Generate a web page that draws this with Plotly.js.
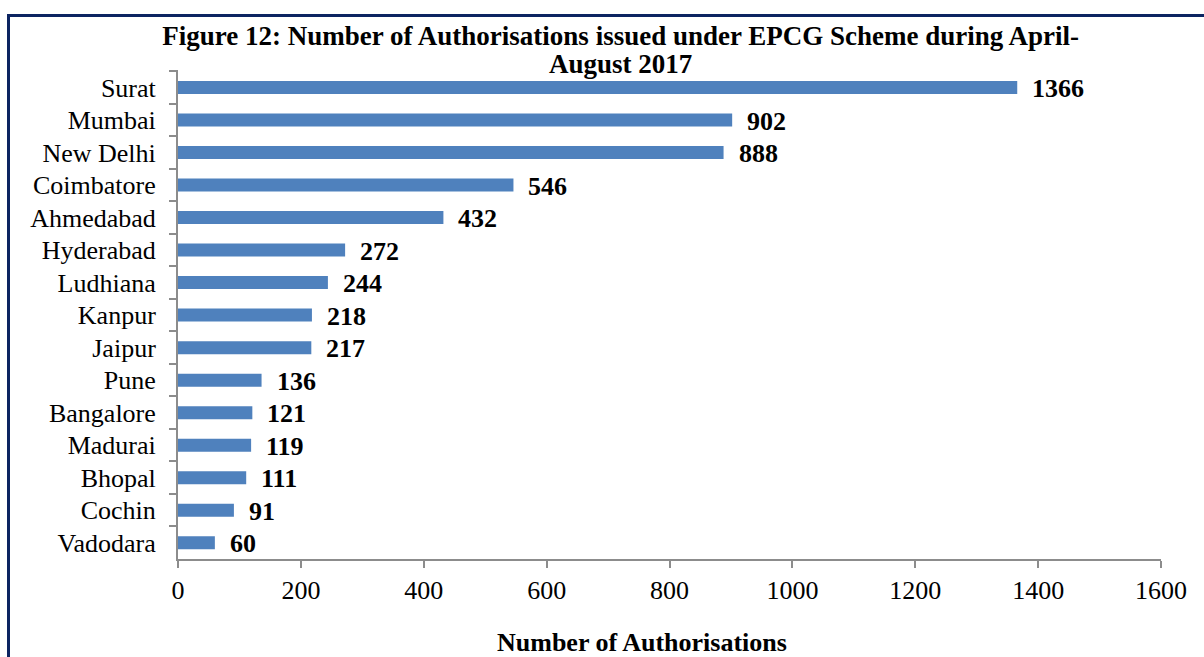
<!DOCTYPE html>
<html>
<head>
<meta charset="utf-8">
<script src="https://cdn.plot.ly/plotly-3.0.1.min.js"></script>
<style>
  html, body { margin: 0; padding: 0; background: #ffffff; }
  #wrap { position: relative; width: 1204px; height: 657px; overflow: hidden; }
  #chart { position: absolute; left: 0; top: 0; width: 1204px; height: 657px; }
  #frame { position: absolute; left: 7px; top: 14px; width: 1210px; height: 660px;
           border-left: 3px solid #0c2461; border-top: 3px solid #0c2461; pointer-events: none; }
</style>
</head>
<body>
<div id="wrap">
  <div id="chart"></div>
  <div id="frame"></div>
</div>
<script>
const cities = ["Surat", "Mumbai", "New Delhi", "Coimbatore", "Ahmedabad", "Hyderabad", "Ludhiana",
                "Kanpur", "Jaipur", "Pune", "Bangalore", "Madurai", "Bhopal", "Cochin", "Vadodara"];
const authorisations = [1366, 902, 888, 546, 432, 272, 244, 218, 217, 136, 121, 119, 111, 91, 60];
const xTicks = [0, 200, 400, 600, 800, 1000, 1200, 1400, 1600];
const chartTitle = 'Figure 12: Number of Authorisations issued under EPCG Scheme during April-<br>August 2017';
const xTitle = 'Number of Authorisations';

const serif = 'Liberation Serif';

const trace = {
  type: 'bar',
  orientation: 'h',
  y: cities,
  x: authorisations,
  width: 0.4,
  marker: { color: '#4F81BD', line: { color: '#4F81BD', width: 0 } },
  hoverinfo: 'x+y'
};

const labelAnnotations = cities.map((c, i) => ({
  x: authorisations[i], y: c, xref: 'x', yref: 'y',
  text: String(authorisations[i]),
  showarrow: false, xanchor: 'left', yanchor: 'middle', xshift: 13, yshift: -1,
  font: { family: serif, size: 26, color: '#000000', weight: 'bold' }
}));

labelAnnotations.push({
  text: xTitle, xref: 'paper', yref: 'paper',
  x: (642 - 178) / 983, y: -(642 - 559) / 489,
  xanchor: 'center', yanchor: 'middle', showarrow: false,
  font: { family: serif, size: 26, color: '#000000', weight: 'bold' }
});

const layout = {
  width: 1204, height: 657,
  paper_bgcolor: '#ffffff', plot_bgcolor: '#ffffff',
  margin: { l: 178, r: 43, t: 70, b: 98 },
  showlegend: false,
  font: { family: serif, size: 26, color: '#000000' },
  title: {
    text: '<span style="font-size:27px">' + chartTitle + '</span>',
    font: { family: serif, size: 21.5, color: '#000000', weight: 'bold' },
    xref: 'container', x: 0.5155, xanchor: 'center',
    yref: 'container', y: 1 - 45 / 657, yanchor: 'middle'
  },
  xaxis: {
    range: [0, 1600],
    tickvals: xTicks,
    ticktext: xTicks.map(String),
    showgrid: false, zeroline: false,
    showline: true, linecolor: '#8c8c8c', linewidth: 2,
    ticks: 'outside', ticklen: 7, tickwidth: 2, tickcolor: '#8c8c8c',
    ticklabelstandoff: 0,
    tickfont: { family: serif, size: 26, color: '#000000' },
    fixedrange: true
  },
  yaxis: {
    type: 'category',
    categoryorder: 'array', categoryarray: cities,
    autorange: 'reversed',
    showgrid: false, zeroline: false,
    showline: true, linecolor: '#8c8c8c', linewidth: 2,
    ticks: 'outside', ticklen: 7, tickwidth: 2, tickcolor: '#8c8c8c',
    tickson: 'boundaries',
    ticklabelstandoff: 15,
    tickfont: { family: serif, size: 26, color: '#000000' },
    fixedrange: true
  },
  annotations: labelAnnotations,
  bargap: 0.6
};

Plotly.newPlot('chart', [trace], layout, { displayModeBar: false, staticPlot: true });
</script>
</body>
</html>
